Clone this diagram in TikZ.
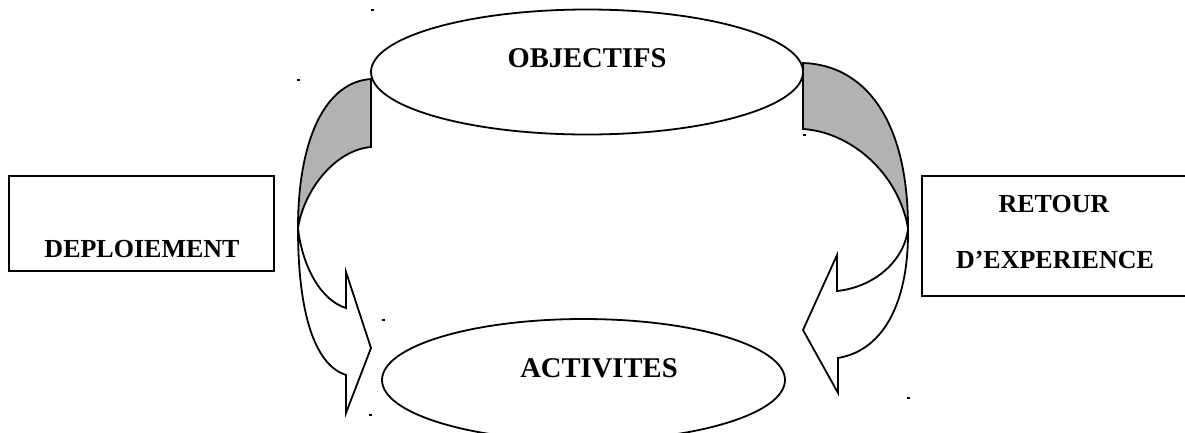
\documentclass[tikz,border=0pt]{standalone}
\usepackage{fontspec}
\setmainfont{Liberation Serif}
\usetikzlibrary{shapes.geometric}
\definecolor{bandgray}{RGB}{178,178,178}
\begin{document}
\begin{tikzpicture}[x=1pt,y=-1pt,line width=1.8pt,line join=miter,
  lbl/.style={font=\bfseries\fontsize{26}{30}\selectfont,inner sep=0pt,anchor=base},
  biglbl/.style={lbl,font=\bfseries\fontsize{28.6}{32}\selectfont},
  oval/.style={ellipse,draw,fill=white,inner sep=0pt},
  frame/.style={rectangle,draw,inner sep=0pt},
  band/.style={fill=bandgray},
  speck/.style={fill=black}]
\useasboundingbox (0,0) rectangle (1185,432);
% left curved arrow
\fill[band] (371,79) .. controls (325,82) and (298,140) .. (298,228)
  .. controls (304,190) and (335,150) .. (371,147) -- cycle;
\draw (371,79) .. controls (325,82) and (298,140) .. (298,228)
  .. controls (298,322) and (318,366) .. (346,375) -- (346,413) -- (371,348)
  -- (346,272) -- (346,308) .. controls (320,300) and (302,265) .. (298,228)
  .. controls (304,190) and (335,150) .. (371,147) -- cycle;
% right curved arrow
\fill[band] (803,63) .. controls (865,65) and (908,120) .. (908,228)
  .. controls (898,172) and (850,132) .. (803,129) -- cycle;
\draw (803,63) .. controls (865,65) and (908,120) .. (908,228)
  .. controls (909,300) and (885,350) .. (838,358) -- (838,393) -- (803,330)
  -- (837,255) -- (837,291) .. controls (875,287) and (905,260) .. (908,228)
  .. controls (898,172) and (850,132) .. (803,129) -- cycle;
% ovals
\node[oval,minimum width=432pt,minimum height=125pt] (obj) at (587,72) {};
\node[oval,minimum width=403pt,minimum height=122pt] (act) at (583.5,380) {};
% boxes
\node[frame,minimum width=265pt,minimum height=95pt] (depbox) at (141.5,223.5) {};
\node[frame,minimum width=270pt,minimum height=120pt] (retbox) at (1057,236) {};
% labels
\node[biglbl] (objt) at (587,67) {OBJECTIFS};
\node[biglbl] (actt) at (599,377) {ACTIVITES};
\node[lbl] (dept) at (142,257) {DEPLOIEMENT};
\node[lbl] (rett1) at (1054,212) {RETOUR};
\node[lbl] (rett2) at (1055,268) {D’EXPERIENCE};
% stray specks
\foreach \p in {(372,10),(298,80),(383,320),(370,415),(804,135),(908,398)}
  \fill[speck] \p ++(-1.5,-1) rectangle ++(3,2);
\end{tikzpicture}
\end{document}
